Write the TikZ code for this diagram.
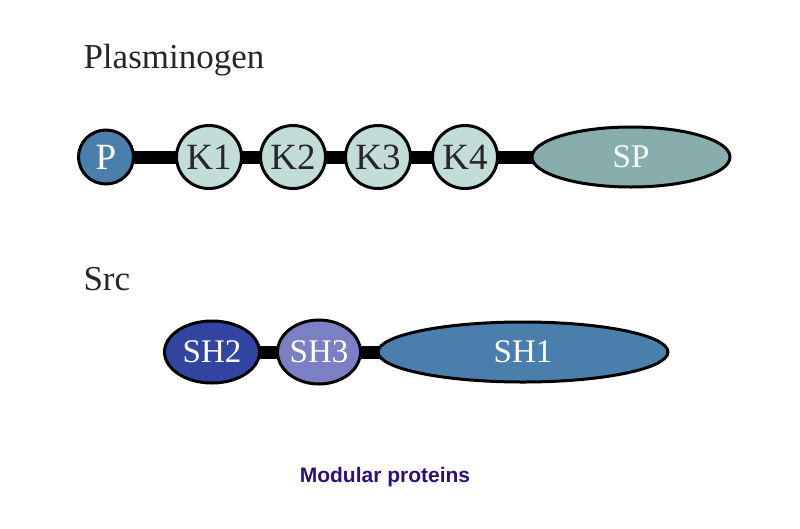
\documentclass[tikz,border=0pt]{standalone}
\usepackage{fontspec}
\setmainfont{Liberation Serif}
\newfontfamily\arialfont{Liberation Sans}
\usetikzlibrary{shapes.geometric,backgrounds}
\definecolor{pblue}{RGB}{74,126,171}
\definecolor{kring}{RGB}{194,220,216}
\definecolor{spcol}{RGB}{135,174,173}
\definecolor{shtwo}{RGB}{50,69,160}
\definecolor{shthree}{RGB}{123,127,196}
\definecolor{shone}{RGB}{74,127,173}
\definecolor{titlecol}{RGB}{48,16,120}
\tikzset{
  protdom/.style={ellipse,draw=black,line width=3pt,inner sep=0pt,
    font=\fontsize{33}{38}\selectfont},
  kringle/.style={protdom,fill=kring,text=black!85,minimum width=65pt,minimum height=63pt,
    font=\fontsize{37}{42}\selectfont},
  linker/.style={line width=13pt,black},
  heading/.style={anchor=base west,font=\fontsize{35}{40}\selectfont,text=black!85}
}
\begin{document}
\begin{tikzpicture}[x=1pt,y=-1pt]
\useasboundingbox (0,0) rectangle (800,528);
\node[heading] (plas) at (80,68) {Plasminogen};
\node[heading] (src) at (80,290) {Src};
% Plasminogen
\node[protdom,fill=pblue,text=white,minimum width=55pt,minimum height=54pt,
  font=\fontsize{37}{42}\selectfont] (P) at (106,157) {P};
\node[kringle] (K1) at (209,157) {K1};
\node[kringle] (K2) at (293,157) {K2};
\node[kringle] (K3) at (378,157) {K3};
\node[kringle] (K4) at (465,157) {K4};
\node[protdom,fill=spcol,text=white,minimum width=198pt,minimum height=60pt] (SP) at (631,157) {SP};
% Src
\node[protdom,fill=shtwo,text=white,minimum width=95pt,minimum height=62pt] (SH2) at (212,352) {SH2};
\node[protdom,fill=shthree,text=white,minimum width=73pt,minimum height=64pt] (SH3) at (319,352) {SH3};
\node[protdom,fill=shone,text=white,minimum width=290pt,minimum height=60pt] (SH1) at (523,352) {SH1};
\begin{pgfonlayer}{background}
\draw[linker] (P.center) -- (K1.center);
\draw[linker] (K1.center) -- (K2.center);
\draw[linker] (K2.center) -- (K3.center);
\draw[linker] (K3.center) -- (K4.center);
\draw[linker] (K4.center) -- (SP.center);
\draw[linker] (SH2.center) -- (SH3.center);
\draw[linker] (SH3.center) -- (SH1.center);
\end{pgfonlayer}
\node[anchor=base,font=\arialfont\bfseries\fontsize{21}{25}\selectfont,text=titlecol] (cap) at (385,482) {Modular proteins};
\end{tikzpicture}
\end{document}
